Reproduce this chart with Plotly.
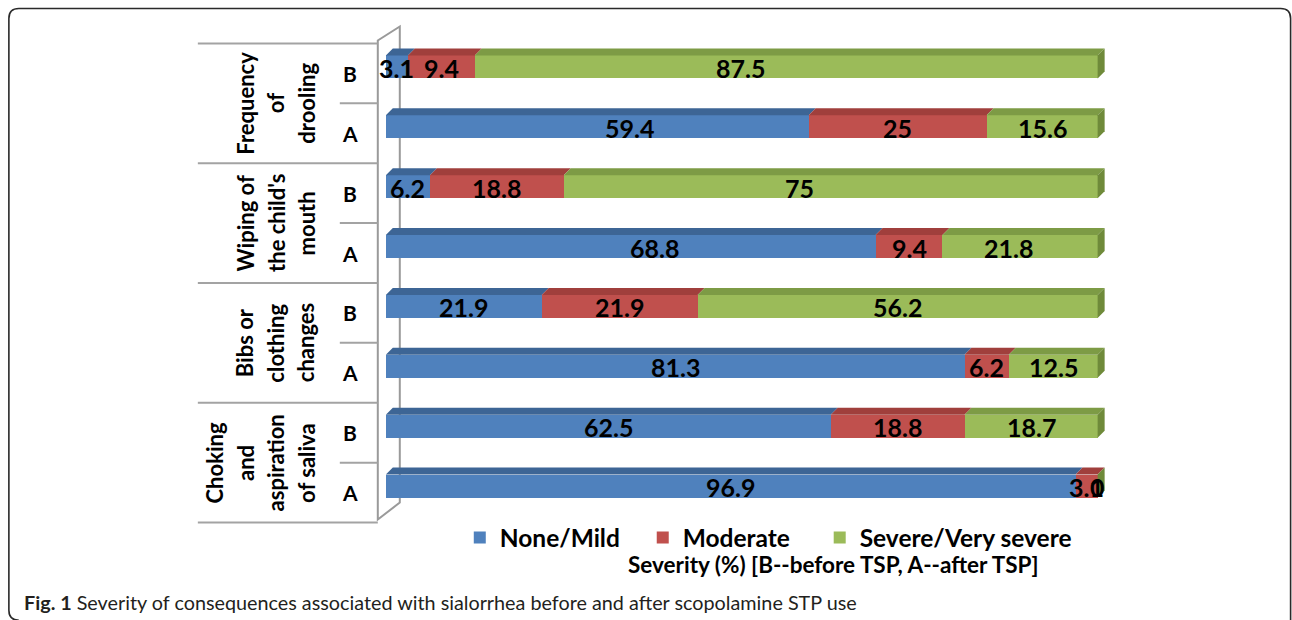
import plotly.graph_objects as go

# ---- data -------------------------------------------------------------
group_lines = [
    ["Frequency", "of", "drooling"],
    ["Wiping of", "the child's", "mouth"],
    ["Bibs or", "clothing", "changes"],
    ["Choking", "and", "aspiration", "of saliva"],
]
periods = ["B", "A"]          # B = before TSP, A = after TSP

none_mild = [3.1, 59.4, 6.2, 68.8, 21.9, 81.3, 62.5, 96.9]
moderate = [9.4, 25, 18.8, 9.4, 21.9, 6.2, 18.8, 3.1]
severe = [87.5, 15.6, 75, 21.8, 56.2, 12.5, 18.7, 0]

series_names = ["None/Mild", "Moderate", "Severe/Very severe"]
axis_title = "Severity (%) [B--before TSP, A--after TSP]"
caption_bold = "Fig. 1"
caption_text = "Severity of consequences associated with sialorrhea before and after scopolamine STP use"

# ---- styling ------------------------------------------------------------
FONT = "Lato"
front_colors = ["#4f81bd", "#c0504d", "#9bbb59"]
top_colors = ["#3d6595", "#a03f3c", "#7d9b45"]
side_color = "#6f8a3a"
wall_color = "#9a9a9a"
table_color = "#a3a3a3"

W, H = 1292, 620
X_RANGE = [-2.5, 103]
Y_RANGE = [7.75, -0.75]
PX_PER_X = 7.12          # pixels per percent
PX_PER_ROW = 60          # pixels per bar row
ML = 386 + X_RANGE[0] * PX_PER_X
MT = 66.5 + Y_RANGE[1] * PX_PER_ROW
PW = (X_RANGE[1] - X_RANGE[0]) * PX_PER_X
PH = (Y_RANGE[0] - Y_RANGE[1]) * PX_PER_ROW
MR = W - ML - PW
MB = H - MT - PH

BAR_W = 23 / PX_PER_ROW
DEPTH = 7                 # pseudo-3D depth in pixels
DX = DEPTH / PX_PER_X
DY = DEPTH / PX_PER_ROW

# manual nudges (px) of a few data labels: (row, series) -> x shift
LABEL_NUDGE = {(0, 2): -46, (1, 0): 32, (2, 2): -31, (3, 0): 24, (3, 2): -12}

# left edge (px) of each legend entry
LEGEND_X = [460, 643, 820]
LEGEND_Y = 538


def fx(px):
    return (px - ML) / PW


def fy(py):
    return 1 - (py - MT) / PH


series = [none_mild, moderate, severe]
rows = list(range(len(none_mild)))
legend_ids = ["legend", "legend2", "legend3"]

fig = go.Figure()
for name, vals, col, lid in zip(series_names, series, front_colors, legend_ids):
    fig.add_trace(go.Bar(
        y=rows, x=vals, name=name, orientation="h", width=BAR_W,
        marker=dict(color=col, line=dict(width=0)),
        hoverinfo="x+name", legend=lid,
    ))

shapes = []

# side wall of the category axis
wall_path = (f"M {fx(378)},{fy(520)} L {fx(378)},{fy(40)} L {fx(400)},{fy(26)} "
             f"L {fx(400)},{fy(503)} Z")
shapes.append(dict(type="path", xref="paper", yref="paper", path=wall_path,
                   line=dict(color=wall_color, width=2), fillcolor="rgba(0,0,0,0)",
                   layer="below"))

# table lines separating the category labels
for g in range(len(group_lines) + 1):
    y = 43 + 120 * g
    shapes.append(dict(type="line", xref="paper", yref="paper",
                       x0=fx(198), x1=fx(378), y0=fy(y), y1=fy(y),
                       line=dict(color=table_color, width=2), layer="below"))
for g in range(len(group_lines)):
    y = 103 + 120 * g
    shapes.append(dict(type="line", xref="paper", yref="paper",
                       x0=fx(340), x1=fx(378), y0=fy(y), y1=fy(y),
                       line=dict(color=table_color, width=2), layer="below"))

# pseudo-3D top faces and end faces of the stacked bars
annotations = []
for i in rows:
    start = 0.0
    y_top = i - BAR_W / 2
    y_bot = i + BAR_W / 2
    for s, vals in enumerate(series):
        v = vals[i]
        end = start + v
        if v > 0:
            path = (f"M {start},{y_top} L {end},{y_top} L {end + DX},{y_top - DY} "
                    f"L {start + DX},{y_top - DY} Z")
            shapes.append(dict(type="path", xref="x", yref="y", path=path,
                               line=dict(width=0), fillcolor=top_colors[s],
                               layer="above"))
        annotations.append(dict(
            x=start + v / 2, y=i, xref="x", yref="y", yshift=-1,
            xshift=LABEL_NUDGE.get((i, s), 0),
            xanchor="center", yanchor="middle",
            text=f"{v:g}", showarrow=False,
            font=dict(family=FONT, size=25, color="black", weight="bold"),
        ))
        start = end
    side = (f"M {start},{y_top} L {start + DX},{y_top - DY} L {start + DX},{y_bot - DY} "
            f"L {start},{y_bot} Z")
    shapes.append(dict(type="path", xref="x", yref="y", path=side,
                       line=dict(width=0), fillcolor=side_color, layer="above"))

# B / A labels
for i in rows:
    annotations.append(dict(
        x=fx(350), y=i, xref="paper", yref="y", yshift=-6.5,
        xanchor="center", yanchor="middle",
        text=periods[i % 2], showarrow=False,
        font=dict(family=FONT, size=21, color="black", weight="bold"),
    ))

# rotated group labels
for g, lines in enumerate(group_lines):
    n = len(lines)
    for k, line in enumerate(lines):
        annotations.append(dict(
            x=fx(306.5 - (n - 1 - k) * 30.5), y=fy(103 + 120 * g),
            xref="paper", yref="paper", text=line, textangle=-90,
            showarrow=False, xanchor="center", yanchor="middle",
            font=dict(family=FONT, size=22, color="black", weight="bold"),
        ))

# axis title
annotations.append(dict(
    x=fx(833), y=fy(565), xref="paper", yref="paper", text=axis_title,
    showarrow=False, xanchor="center", yanchor="middle",
    font=dict(family=FONT, size=22.5, color="black", weight="bold"),
))

# figure caption
annotations.append(dict(
    x=fx(22), y=fy(603), xref="paper", yref="paper",
    text=f"<b>{caption_bold}</b> {caption_text}",
    showarrow=False, xanchor="left", yanchor="middle",
    font=dict(family=FONT, size=19.8, color="#231f20"),
))

# rounded frame around the figure
frame = (f"M {fx(19)},{fy(621)} Q {fx(9)},{fy(621)} {fx(9)},{fy(611)} "
         f"L {fx(9)},{fy(18)} Q {fx(9)},{fy(8)} {fx(19)},{fy(8)} "
         f"L {fx(1281)},{fy(8)} Q {fx(1291)},{fy(8)} {fx(1291)},{fy(18)} L {fx(1291)},{fy(622)}")
shapes.append(dict(type="path", xref="paper", yref="paper", path=frame,
                   line=dict(color="#2a2a2a", width=1.6), layer="below"))

legend_style = dict(
    orientation="h", xanchor="left", yanchor="middle", y=fy(LEGEND_Y),
    font=dict(family=FONT, size=24.5, color="black", weight="bold"),
    bgcolor="rgba(0,0,0,0)", itemclick=False, itemdoubleclick=False,
)

fig.update_layout(
    width=W, height=H,
    margin=dict(l=ML, r=MR, t=MT, b=MB, pad=0),
    paper_bgcolor="white", plot_bgcolor="white",
    barmode="stack", bargap=0,
    xaxis=dict(range=X_RANGE, visible=False, fixedrange=True),
    yaxis=dict(range=Y_RANGE, visible=False, fixedrange=True),
    showlegend=True,
    legend=dict(x=fx(LEGEND_X[0]), **legend_style),
    legend2=dict(x=fx(LEGEND_X[1]), **legend_style),
    legend3=dict(x=fx(LEGEND_X[2]), **legend_style),
    shapes=shapes,
    annotations=annotations,
)

fig.write_html("out.html")
